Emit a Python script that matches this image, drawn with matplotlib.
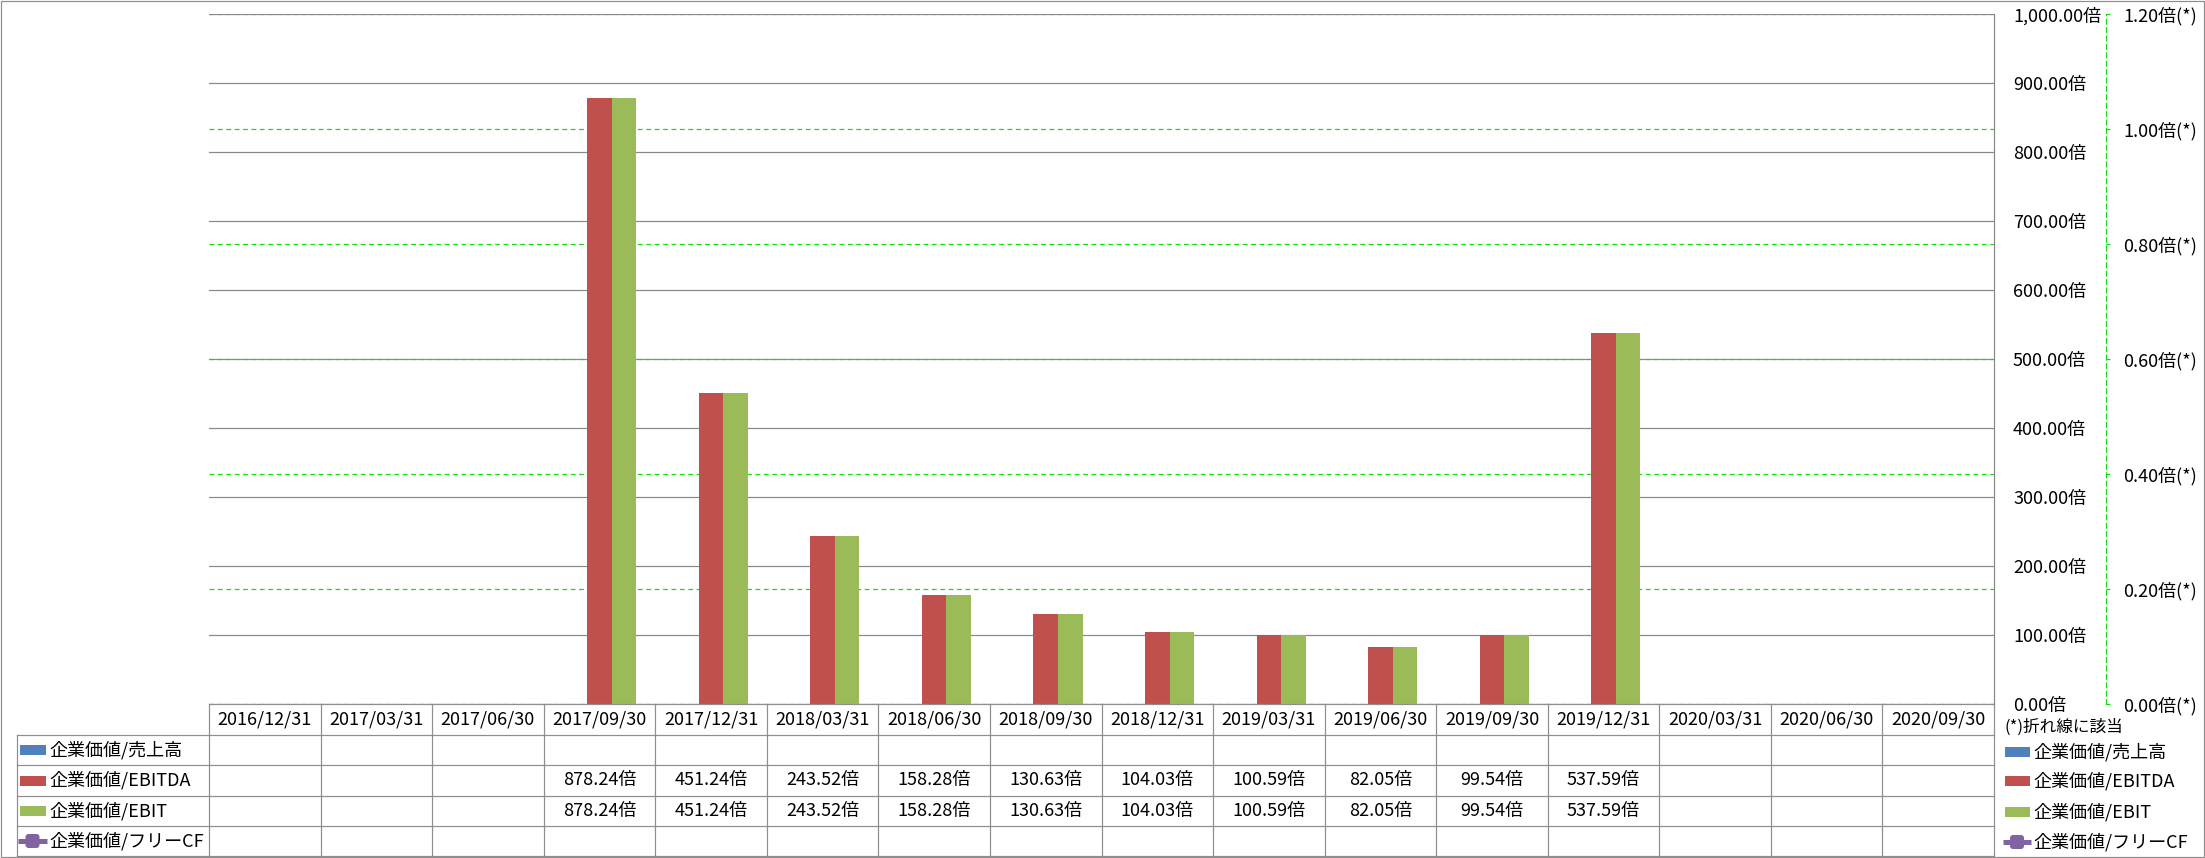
import matplotlib
matplotlib.use('Agg')
import matplotlib.pyplot as plt
import matplotlib.transforms as mtransforms
from matplotlib.patches import Rectangle, FancyBboxPatch
from matplotlib.lines import Line2D

plt.rcParams['font.family'] = ['Noto Sans CJK JP', 'DejaVu Sans']

# ---------------- data ----------------
categories = ['2016/12/31', '2017/03/31', '2017/06/30', '2017/09/30', '2017/12/31',
              '2018/03/31', '2018/06/30', '2018/09/30', '2018/12/31', '2019/03/31',
              '2019/06/30', '2019/09/30', '2019/12/31', '2020/03/31', '2020/06/30',
              '2020/09/30']
ev_sales = [None] * 16
ev_ebitda = [None, None, None, 878.24, 451.24, 243.52, 158.28, 130.63, 104.03,
             100.59, 82.05, 99.54, 537.59, None, None, None]
ev_ebit = [None, None, None, 878.24, 451.24, 243.52, 158.28, 130.63, 104.03,
           100.59, 82.05, 99.54, 537.59, None, None, None]
ev_fcf = [None] * 16
series_names = ['企業価値/売上高', '企業価値/EBITDA', '企業価値/EBIT', '企業価値/フリーCF']
primary_ticks = [0, 100, 200, 300, 400, 500, 600, 700, 800, 900, 1000]
secondary_ticks = [0.0, 0.2, 0.4, 0.6, 0.8, 1.0, 1.2]
note_text = '(*)折れ線に該当'

# ---------------- style ----------------
C_BLUE, C_RED, C_GREEN, C_PURPLE = '#4F81BD', '#C0504D', '#9BBB59', '#8064A2'
C_GRID = '#888888'
C_LINE = '#8E8E8E'
C_SEC = '#11DD11'
PX = 72 / 100.0  # points per pixel

W, H = 2205, 858
L, R, T, B = 209, 1994, 14, 704
fig = plt.figure(figsize=(W / 100, H / 100), dpi=100)
fig.patch.set_facecolor('white')

ax = fig.add_axes([L / W, 1 - B / H, (R - L) / W, (B - T) / H])
ax2 = ax.twinx()
ax2.set_zorder(ax.get_zorder() - 1)
ax.patch.set_visible(False)

n = len(categories)
xs = list(range(n))
bw = 0.22
series_vals = [ev_sales, ev_ebitda, ev_ebit]
series_cols = [C_BLUE, C_RED, C_GREEN]
for k, (vals, col) in enumerate(zip(series_vals, series_cols)):
    px = [x + (k - 1) * bw for x, v in zip(xs, vals) if v is not None]
    pv = [v for v in vals if v is not None]
    if pv:
        ax.bar(px, pv, width=bw, color=col, zorder=3, linewidth=0)

fs_num = 13
fs_lbl = 13

ax.set_xlim(-0.5, n - 0.5)
ax.set_ylim(0, 1000)
ax.set_yticks(primary_ticks)
ax.set_yticklabels([f'{v:,.2f}倍' for v in primary_ticks])
ax.yaxis.tick_right()
ax.tick_params(axis='y', length=0, pad=19 * PX, labelsize=fs_num, labelcolor='#000000')
ax.set_xticks([])
ax.set_axisbelow(True)
ax.grid(axis='y', color=C_GRID, linewidth=1.2 * PX)
for s in ['left', 'top', 'bottom']:
    ax.spines[s].set_visible(False)
ax.spines['right'].set_color(C_GRID)
ax.spines['right'].set_linewidth(1.2 * PX)

# secondary axis
ax2.set_ylim(0, 1.2)
ax2.set_yticks(secondary_ticks)
ax2.set_yticklabels([f'{v:.2f}倍(*)' for v in secondary_ticks])
for s in ['left', 'top', 'bottom']:
    ax2.spines[s].set_visible(False)
ax2.spines['right'].set_position(('axes', (2106 - L) / (R - L)))
ax2.spines['right'].set_color(C_SEC)
ax2.spines['right'].set_linestyle((0, (4, 3)))
ax2.spines['right'].set_linewidth(1.2 * PX)
ax2.tick_params(axis='y', direction='out', length=4 * PX, width=1.2 * PX, color=C_SEC,
                pad=13 * PX, labelsize=fs_num)
ax2.grid(axis='y', color=C_SEC, linestyle=(0, (4, 3)), linewidth=1.2 * PX)
ax2.set_xticks([])

# ---------------- overlay: table, legend, border ----------------
ov = fig.add_axes([0, 0, 1, 1])
ov.set_xlim(0, W)
ov.set_ylim(H, 0)
ov.axis('off')
ov.patch.set_visible(False)
bt = mtransforms.blended_transform_factory(ax.transData, ov.transData)
lw = 1.2 * PX

row_y = [704, 735, 765, 796, 826, 856]
# horizontal table lines
ov.add_line(Line2D([L, R], [row_y[0], row_y[0]], color=C_LINE, lw=lw))
for y in row_y[1:]:
    ov.add_line(Line2D([17, R], [y, y], color=C_LINE, lw=lw))
# vertical table lines
for i in range(n + 1):
    ov.add_line(Line2D([i - 0.5, i - 0.5], [row_y[0], row_y[-1]], color=C_LINE, lw=lw,
                       transform=bt))
ov.add_line(Line2D([17, 17], [row_y[1], row_y[-1]], color=C_LINE, lw=lw))


def purple_key(ax_, x0, x1, yc, col):
    ax_.add_line(Line2D([x0, x1], [yc, yc], color=col, lw=5 * PX, solid_capstyle='butt'))
    xm = (x0 + x1) / 2
    ax_.add_patch(FancyBboxPatch((xm - 5.5, yc - 5.5), 11, 11,
                                 boxstyle='round,pad=1.5,rounding_size=3',
                                 facecolor=col, edgecolor='none'))


# header
for i, c in enumerate(categories):
    ov.text(i, (row_y[0] + row_y[1]) / 2, c, transform=bt, ha='center', va='center',
            fontsize=fs_num, color='#000000')
# rows
all_series = [ev_sales, ev_ebitda, ev_ebit, ev_fcf]
row_cols = [C_BLUE, C_RED, C_GREEN, C_PURPLE]
for r, (name, vals, col) in enumerate(zip(series_names, all_series, row_cols)):
    yc = (row_y[r + 1] + row_y[r + 2]) / 2
    if r < 3:
        ov.add_patch(Rectangle((20, yc - 5), 26, 10, color=col, lw=0))
    else:
        purple_key(ov, 18, 47, yc, col)
    ov.text(49, yc, name, ha='left', va='center', fontsize=fs_lbl, color='#000000')
    for i, v in enumerate(vals):
        if v is not None:
            ov.text(i, yc, f'{v:,.2f}倍', transform=bt, ha='center', va='center',
                    fontsize=fs_num, color='#000000')

# right legend
ov.text(2004, 727, note_text, ha='left', va='center', fontsize=12, color='#000000')
leg_y = [752, 781, 812, 842]
for name, col, yc, r in zip(series_names, row_cols, leg_y, range(4)):
    if r < 3:
        ov.add_patch(Rectangle((2005, yc - 5), 25, 10, color=col, lw=0))
    else:
        purple_key(ov, 2003, 2031, yc, col)
    ov.text(2033, yc, name, ha='left', va='center', fontsize=fs_lbl, color='#000000')

# outer border
ov.add_patch(Rectangle((0.5, 0.5), W - 1.5, H - 1.5, fill=False, edgecolor=C_LINE, lw=lw))

fig.savefig('out.png', dpi=100, facecolor='white')
